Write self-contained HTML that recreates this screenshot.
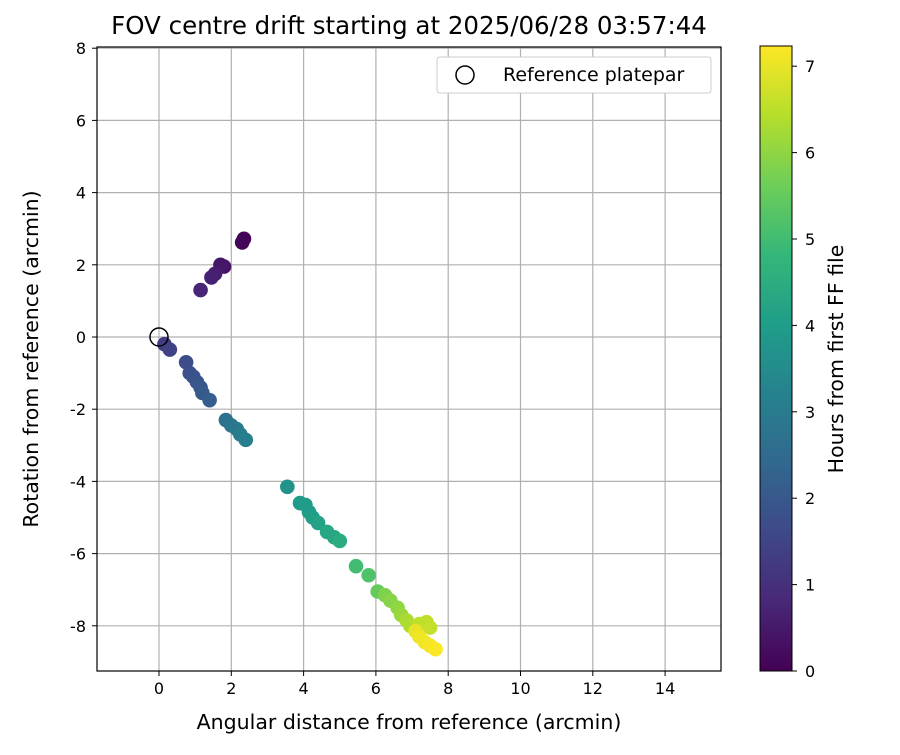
<!DOCTYPE html>
<html><head><meta charset="utf-8"><style>
body{margin:0;background:#fff;font-family:"Liberation Sans","DejaVu Sans",sans-serif}
svg text{font-family:"DejaVu Sans","Liberation Sans",sans-serif;fill:#000}
</style></head><body>
<svg id="chart" width="900" height="750" xmlns="http://www.w3.org/2000/svg">
<defs><linearGradient id="vir" x1="0" y1="1" x2="0" y2="0">
<stop offset="0" stop-color="#440154"/><stop offset="0.111" stop-color="#482878"/><stop offset="0.222" stop-color="#3e4989"/><stop offset="0.333" stop-color="#31688e"/><stop offset="0.444" stop-color="#26828e"/><stop offset="0.556" stop-color="#1f9e89"/><stop offset="0.667" stop-color="#35b779"/><stop offset="0.778" stop-color="#6ece58"/><stop offset="0.889" stop-color="#b5de2b"/><stop offset="1" stop-color="#fde725"/></linearGradient></defs>
<text x="409" y="34" font-size="24.5" text-anchor="middle">FOV centre drift starting at 2025/06/28 03:57:44</text>
<g id="grid"></g>
<g id="pts"></g>
<rect x="97" y="47" width="624" height="624" fill="none" stroke="#000" stroke-width="1.2"/>
<g id="ticks"></g>
<text x="409" y="729" font-size="20.5" text-anchor="middle">Angular distance from reference (arcmin)</text>
<text transform="translate(38,359) rotate(-90)" font-size="20.5" text-anchor="middle">Rotation from reference (arcmin)</text>
<g>
<rect x="437" y="57" width="274" height="36" rx="3" fill="#fff" stroke="#ccc"/>
<circle cx="465" cy="75" r="9" fill="none" stroke="#000" stroke-width="1.5"/>
<text x="503" y="81" font-size="19">Reference platepar</text>
</g>
<rect x="760" y="46" width="32" height="625" fill="url(#vir)" stroke="#000" stroke-width="1"/>
<g id="cticks"></g>
<text transform="translate(843,359) rotate(-90)" font-size="20.5" text-anchor="middle">Hours from first FF file</text>
</svg>
<script>
const xTicks=[0,2,4,6,8,10,12,14];
const yTicks=[-8,-6,-4,-2,0,2,4,6,8];
const cTicks=[0,1,2,3,4,5,6,7];
const xs=[2.35,2.3,1.8,1.7,1.55,1.45,1.15,0.15,0.3,0.75,0.85,0.95,1.05,1.15,1.2,1.4,1.85,2.0,2.15,2.25,2.4,3.55,3.9,4.05,4.15,4.25,4.4,4.65,4.85,5.0,5.45,5.8,6.05,6.25,6.4,6.6,6.7,6.85,6.95,7.2,7.4,7.5,7.1,7.2,7.35,7.5,7.65];
const ys=[2.72,2.62,1.95,2.0,1.75,1.65,1.3,-0.2,-0.35,-0.7,-1.0,-1.1,-1.25,-1.4,-1.55,-1.75,-2.3,-2.45,-2.55,-2.7,-2.85,-4.15,-4.6,-4.65,-4.85,-5.0,-5.15,-5.4,-5.55,-5.65,-6.35,-6.6,-7.05,-7.15,-7.3,-7.5,-7.7,-7.85,-8.0,-7.95,-7.9,-8.05,-8.15,-8.3,-8.45,-8.55,-8.65];
const hours=[0.05,0.1,0.4,0.45,0.6,0.65,0.75,1.3,1.4,1.7,1.8,1.85,1.9,2.0,2.05,2.15,2.7,2.8,2.9,3.0,3.1,3.7,3.9,3.95,4.0,4.05,4.15,4.3,4.35,4.45,5.0,5.2,5.5,5.8,5.9,6.0,6.1,6.3,6.35,6.5,6.55,6.6,7.0,7.05,7.1,7.15,7.2];
const X=v=>159+(v)*36.15, Y=v=>337-v*36.1, C=v=>671-v*86.4;
const vir=["#440154","#482878","#3e4989","#31688e","#26828e","#1f9e89","#35b779","#6ece58","#b5de2b","#fde725"];
function hex(h){return [1,3,5].map(i=>parseInt(h.substr(i,2),16));}
function col(t){let f=Math.max(0,Math.min(1,t/7.23))*(vir.length-1);let i=Math.min(vir.length-2,Math.floor(f)),r=f-i;let a=hex(vir[i]),b=hex(vir[i+1]);return "rgb("+a.map((v,k)=>Math.round(v+(b[k]-v)*r)).join(",")+")";}
const NS="http://www.w3.org/2000/svg";
function mk(tag,attrs,parent){const e=document.createElementNS(NS,tag);for(const k in attrs)e.setAttribute(k,attrs[k]);document.getElementById(parent).appendChild(e);return e;}
xTicks.forEach(v=>{
 const l=mk("line",{x1:X(v),x2:X(v),y1:47,y2:671,stroke:"#b0b0b0","stroke-width":1.2},"grid");
 
 
 mk("line",{x1:X(v),x2:X(v),y1:671,y2:676,stroke:"#000"},"ticks");
 const t=mk("text",{x:X(v),y:694,"font-size":16,"text-anchor":"middle"},"ticks");t.textContent=v;
 
 
});
yTicks.forEach(v=>{
 const l=mk("line",{x1:97,x2:721,y1:Y(v),y2:Y(v),stroke:"#b0b0b0","stroke-width":1.2},"grid");
 
 
 mk("line",{x1:92,x2:97,y1:Y(v),y2:Y(v),stroke:"#000"},"ticks");
 const t=mk("text",{x:86,y:Y(v)+6,"font-size":16,"text-anchor":"end"},"ticks");t.textContent=v;
 
 
});
cTicks.forEach(v=>{
 mk("line",{x1:792,x2:797,y1:C(v),y2:C(v),stroke:"#000"},"cticks");
 const t=mk("text",{x:805,y:C(v)+6,"font-size":16},"cticks");t.textContent=v;
 
 
});
xs.forEach((v,i)=>{
 const c=mk("circle",{cx:X(v),cy:Y(ys[i]),r:7.3,fill:col(hours[i])},"pts");
 
 
});
const ref=mk("circle",{cx:X(0),cy:Y(0),r:9,fill:"none",stroke:"#000","stroke-width":1.5},"pts");


</script>
</body></html>
